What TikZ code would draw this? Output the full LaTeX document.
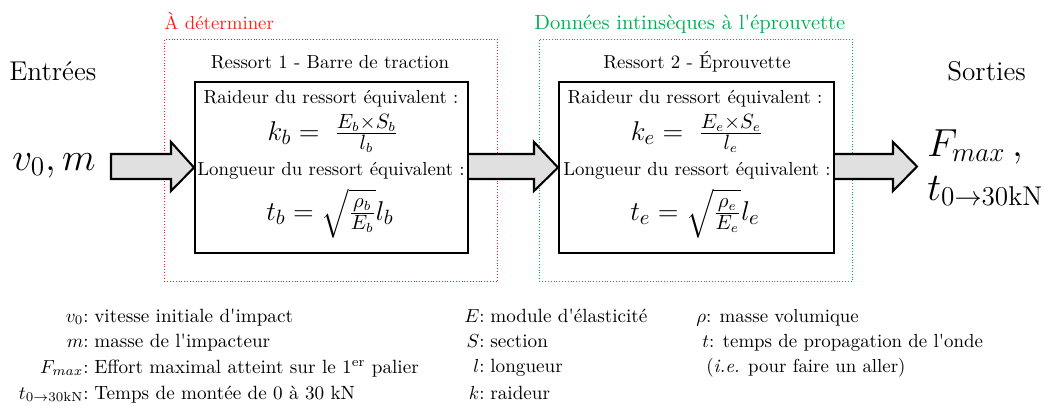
\documentclass[tikz,border=0pt]{standalone}
\usepackage{amsmath}
\definecolor{mygreen}{RGB}{0,176,80}
\definecolor{myred}{RGB}{255,30,30}
\definecolor{arrowgray}{RGB}{224,224,224}
\newcommand\sq{\textquotesingle}
\begin{document}
\begin{tikzpicture}[x=0.53pt,y=-0.53pt,
  springbox/.style={draw, line width=1.1pt, minimum width={273*0.53pt}, minimum height={171*0.53pt}, anchor=north west, inner sep=0pt},
  zone/.style={draw, densely dotted, line width=0.5pt, anchor=north west, inner sep=0pt, minimum height={242*0.53pt}},
  bigarrow/.style={fill=arrowgray, draw=black, line width=1.1pt, line join=miter},
  txt/.style={inner sep=0pt, anchor=base},
  formula/.style={inner sep=0pt, anchor=base, font=\fontsize{15}{18}\selectfont},
  leglabel/.style={inner sep=0pt, anchor=base east},
  legtext/.style={inner sep=0pt, anchor=base west, font=\fontsize{10.15}{12}\selectfont}]
\useasboundingbox (0,0) rectangle (1057,405);

% zones
\node[zone, draw=myred, minimum width={333*0.53pt}] (zoneA) at (164,39) {};
\node[zone, draw=mygreen, minimum width={313*0.53pt}] (zoneB) at (539,39) {};
\node[txt, anchor=base west, text=myred] (detlab) at (164,29) {À déterminer};
\node[txt, anchor=base west, text=mygreen, font=\fontsize{10.9}{13}\selectfont] (donlab) at (534,29) {Données intinsèques à l\sq éprouvette};

% titles
\node[txt] (t1) at (330,68) {Ressort 1 - Barre de traction};
\node[txt] (t2) at (697,68) {Ressort 2 - Éprouvette};

% boxes
\node[springbox] (box1) at (194,81) {};
\node[springbox, minimum width={275*0.53pt}] (box2) at (558,81) {};

% box 1 content
\node[txt] (r1) at (331,103) {Raideur du ressort équivalent :};
\node[formula] (k1) at (333,140) {$k_b = \;\frac{E_b\times S_b}{l_b}$};
\node[txt] (l1) at (331,175) {Longueur du ressort équivalent :};
\node[formula] (tt1) at (330,220) {$t_b = \sqrt{\frac{\rho_b}{E_b}}l_b$};

% box 2 content
\node[txt] (r2) at (695,103) {Raideur du ressort équivalent :};
\node[formula] (k2) at (697,140) {$k_e = \;\frac{E_e\times S_e}{l_e}$};
\node[txt] (l2) at (697,175) {Longueur du ressort équivalent :};
\node[formula] (tt2) at (695,220) {$t_e = \sqrt{\frac{\rho_e}{E_e}}l_e$};

% inputs / outputs
\node[txt, anchor=base west] (ent) at (9,80) {\Large Entrées};
\node[txt, anchor=base west] (sor) at (947,80) {\Large Sorties};
\node[txt, anchor=base west] (inp) at (12,170) {\huge $v_0, m$};
\node[txt, anchor=base west] (out1) at (927,156) {\huge $F_{max}\,,$};
\node[txt, anchor=base west] (out2) at (927,200) {\huge $t_{0\to30\text{kN}}$};

% arrows
\filldraw[bigarrow] (111,154) -- (171,154) -- (171,142) -- (box1.west) -- (171,191) -- (171,179) -- (111,179) -- cycle;
\filldraw[bigarrow] (box1.east |- 0,154) -- (534,154) -- (534,142) -- (box2.west) -- (534,191) -- (534,179) -- (box1.east |- 0,179);
\filldraw[bigarrow] (box2.east |- 0,154) -- (893,154) -- (893,142) -- (917,166.5) -- (893,191) -- (893,179) -- (box2.east |- 0,179);

% legend column 1
\node[leglabel] (la1) at (89,322) {$v_0$:};
\node[legtext]  (ta1) at (94,322) {vitesse initiale d\sq impact};
\node[leglabel] (la2) at (89,347) {$m$:};
\node[legtext]  (ta2) at (94,347) {masse de l\sq impacteur};
\node[leglabel] (la3) at (89,373) {$F_{max}$:};
\node[legtext]  (ta3) at (94,373) {Effort maximal atteint sur le 1\textsuperscript{er} palier};
\node[leglabel] (la4) at (89,399) {$t_{0\to30\text{kN}}$:};
\node[legtext]  (ta4) at (94,399) {Temps de montée de 0 à 30 kN};

% legend column 2
\node[leglabel] (lb1) at (485,322) {$E$:};
\node[legtext]  (tb1) at (490,322) {module d\sq élasticité};
\node[leglabel] (lb2) at (485,347) {$S$:};
\node[legtext]  (tb2) at (490,347) {section};
\node[leglabel] (lb3) at (485,372) {$l$:};
\node[legtext]  (tb3) at (490,372) {longueur};
\node[leglabel] (lb4) at (485,399) {$k$:};
\node[legtext]  (tb4) at (490,399) {raideur};

% legend column 3
\node[legtext, font=\normalsize] (tc1) at (696,322) {$\rho$: masse volumique};
\node[legtext, font=\normalsize] (tc2) at (702,347) {$t$: temps de propagation de l\sq onde};
\node[legtext, font=\normalsize] (tc3) at (706,372) {(\textit{i.e.} pour faire un aller)};
\end{tikzpicture}
\end{document}
